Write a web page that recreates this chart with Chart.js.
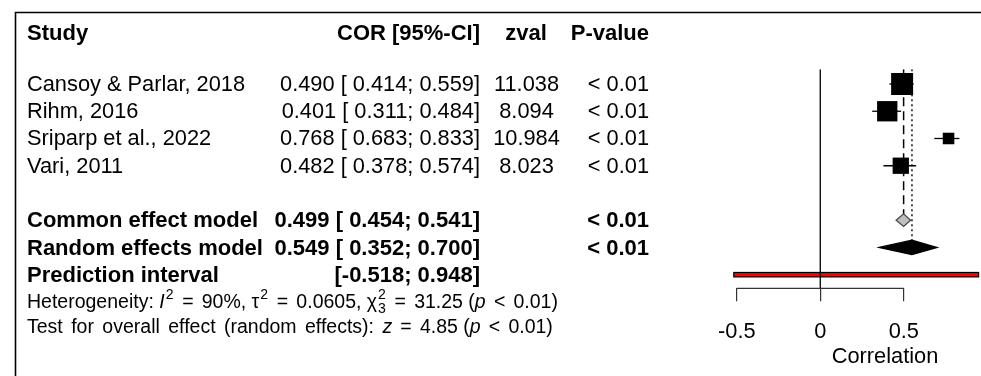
<!DOCTYPE html>
<html>
<head>
<meta charset="utf-8">
<script src="https://cdn.jsdelivr.net/npm/chart.js@4.4.0/dist/chart.umd.min.js"></script>
<style>
  html, body { margin: 0; padding: 0; background: #fff; }
  canvas { display: block; }
</style>
</head>
<body>
<canvas id="forest" width="981" height="376"></canvas>
<script>
// study-level correlations with 95% CI
const studies = ["Cansoy & Parlar, 2018", "Rihm, 2016", "Sriparp et al., 2022", "Vari, 2011"];
const cor = [0.490, 0.401, 0.768, 0.482];
const ciLower = [0.414, 0.311, 0.683, 0.378];
const ciUpper = [0.559, 0.484, 0.833, 0.574];
const zval = [11.038, 8.094, 10.984, 8.023];
const pval = ["< 0.01", "< 0.01", "< 0.01", "< 0.01"];
const weights = [37.3, 31.9, 10.3, 20.5]; // common-effect weights (%), sets square size

// pooled estimates
const summaryLabels = ["Common effect model", "Random effects model"];
const summaryEst = [0.499, 0.549];
const summaryLower = [0.454, 0.352];
const summaryUpper = [0.541, 0.700];
const summaryP = ["< 0.01", "< 0.01"];
const predInterval = [-0.518, 0.948];

// heterogeneity / overall test
const hetI2 = 90, hetTau2 = 0.0605, hetQ = 31.25, hetDf = 3, overallZ = 4.85;

const xTicks = [-0.5, 0, 0.5];

// row positions (y axis runs top to bottom)
const studyRows = [1, 2, 3, 4];
const summaryRows = [6, 7];
const predRow = 8;
const headerRow = -0.87, hetRow = 9, testRow = 9.9;

const FONT = '"Liberation Sans", Arial, sans-serif';
const MAIN = 21.8, BOLD = 22, SMALL = 19.5;
const f3 = v => v.toFixed(3);
const ciText = (lo, hi) => `[${lo < 0 ? '' : ' '}${f3(lo)}; ${f3(hi)}]`;

const datasets = [];

// squares
datasets.push({
  type: 'scatter',
  data: cor.map((v, i) => ({ x: v, y: studyRows[i] })),
  pointStyle: 'rect',
  pointRadius: ctx => 3.6 * Math.sqrt(weights[ctx.dataIndex]) / Math.SQRT2,
  backgroundColor: '#000',
  borderColor: '#000',
  borderWidth: 0,
  order: 0,
  clip: false
});

// confidence interval whiskers
studies.forEach((s, i) => {
  datasets.push({
    type: 'line',
    data: [{ x: ciLower[i], y: studyRows[i] }, { x: ciUpper[i], y: studyRows[i] }],
    borderColor: '#000',
    borderWidth: 1.3,
    pointRadius: 0,
    order: 1,
    clip: false
  });
});

// reference lines: no effect, common effect (dashed), random effects (dotted)
const yTop = 0.46, yBottom = 8.5;
datasets.push({
  type: 'line',
  data: [{ x: 0, y: yTop }, { x: 0, y: yBottom }],
  borderColor: '#111', borderWidth: 1.4, pointRadius: 0, order: 2
});
datasets.push({
  type: 'line',
  data: [{ x: summaryEst[0], y: yTop }, { x: summaryEst[0], y: summaryRows[0] - 0.22 }],
  borderColor: '#000', borderWidth: 1.5, borderDash: [9, 5], pointRadius: 0, order: 2
});
datasets.push({
  type: 'line',
  data: [{ x: summaryEst[1], y: yTop }, { x: summaryEst[1], y: summaryRows[1] - 0.24 }],
  borderColor: '#000', borderWidth: 1.4, borderDash: [2, 3], pointRadius: 0, order: 2
});

const forestPlugin = {
  id: 'forest',
  beforeDatasetsDraw(chart) {
    const { ctx, scales: { x, y } } = chart;
    const py = y.getPixelForValue(predRow);
    const x0 = x.getPixelForValue(predInterval[0]);
    const x1 = x.getPixelForValue(predInterval[1]);
    ctx.save();
    ctx.fillStyle = '#ff0000';
    ctx.strokeStyle = '#000';
    ctx.lineWidth = 1.2;
    ctx.fillRect(x0, py - 2.2, x1 - x0, 4.4);
    ctx.strokeRect(x0, py - 2.2, x1 - x0, 4.4);
    ctx.restore();
  },
  afterDatasetsDraw(chart) {
    const { ctx, scales: { x, y } } = chart;
    const fills = ['#bebebe', '#000'];
    const half = [6.3, 7.2];
    ctx.save();
    summaryEst.forEach((est, i) => {
      const yc = y.getPixelForValue(summaryRows[i]);
      ctx.beginPath();
      ctx.moveTo(x.getPixelForValue(summaryLower[i]), yc);
      ctx.lineTo(x.getPixelForValue(est), yc - half[i]);
      ctx.lineTo(x.getPixelForValue(summaryUpper[i]), yc);
      ctx.lineTo(x.getPixelForValue(est), yc + half[i]);
      ctx.closePath();
      ctx.fillStyle = fills[i];
      ctx.fill();
      ctx.strokeStyle = i === 0 ? '#444' : '#000';
      ctx.lineWidth = 1.2;
      ctx.stroke();
    });
    // axis line between outer ticks
    const ab = chart.chartArea.bottom;
    ctx.beginPath();
    ctx.moveTo(x.getPixelForValue(xTicks[0]), ab);
    ctx.lineTo(x.getPixelForValue(xTicks[xTicks.length - 1]), ab);
    ctx.strokeStyle = '#333';
    ctx.lineWidth = 1.2;
    ctx.stroke();
    ctx.restore();
  },
  afterDraw(chart) {
    const { ctx, scales: { y } } = chart;
    const row = r => y.getPixelForValue(r) + 1;
    ctx.save();
    ctx.fillStyle = '#000';
    ctx.textBaseline = 'middle';

    // frame
    ctx.beginPath();
    ctx.moveTo(15.5, 376);
    ctx.lineTo(15.5, 12.5);
    ctx.lineTo(981, 12.5);
    ctx.strokeStyle = '#000';
    ctx.lineWidth = 1.6;
    ctx.stroke();

    const text = (t, px, py, align, bold) => {
      ctx.font = bold ? `bold ${BOLD}px ${FONT}` : `${MAIN}px ${FONT}`;
      ctx.textAlign = align;
      ctx.fillText(t, px, py);
    };

    // header
    const hy = row(headerRow);
    text('Study', 27, hy, 'left', true);
    text('COR [95%-CI]', 480, hy, 'right', true);
    text('zval', 526, hy, 'center', true);
    text('P-value', 649, hy, 'right', true);

    // studies
    studies.forEach((s, i) => {
      const ry = row(studyRows[i]);
      text(s, 27, ry, 'left');
      text(`${f3(cor[i])} ${ciText(ciLower[i], ciUpper[i])}`, 480, ry, 'right');
      text(f3(zval[i]), 526.5, ry, 'center');
      text(pval[i], 649, ry, 'right');
    });

    // pooled rows
    summaryLabels.forEach((s, i) => {
      const ry = row(summaryRows[i]);
      text(s, 27, ry, 'left', true);
      text(`${f3(summaryEst[i])} ${ciText(summaryLower[i], summaryUpper[i])}`, 480, ry, 'right', true);
      text(summaryP[i], 649, ry, 'right', true);
    });
    text('Prediction interval', 27, row(predRow), 'left', true);
    text(ciText(predInterval[0], predInterval[1]), 480, row(predRow), 'right', true);

    // heterogeneity statistics: italic symbols, stacked super/subscripts,
    // relations set with wide gaps like plotmath
    const runs = (parts, px, py) => {
      ctx.textAlign = 'left';
      for (const p of parts) {
        ctx.wordSpacing = `${p.ws || 0}px`;
        if (p.sup || p.sub) {
          ctx.font = `${SMALL * 0.72}px ${FONT}`;
          let w = 0;
          if (p.sup) { ctx.fillText(p.sup, px + 1, py - SMALL * 0.42); w = Math.max(w, ctx.measureText(p.sup).width); }
          if (p.sub) { ctx.fillText(p.sub, px + 1, py + SMALL * 0.3); w = Math.max(w, ctx.measureText(p.sub).width); }
          px += w + 1.5;
        } else if (p.op) {
          ctx.font = `${SMALL}px ${FONT}`;
          px += SMALL * 0.42;
          ctx.fillText(p.op, px, py);
          px += ctx.measureText(p.op).width + SMALL * 0.42;
        } else {
          ctx.font = `${p.it ? 'italic ' : ''}${SMALL}px ${FONT}`;
          ctx.fillText(p.t, px, py);
          px += ctx.measureText(p.t).width;
        }
      }
      ctx.wordSpacing = '0px';
    };
    runs([
      { t: 'Heterogeneity: ' }, { t: 'I', it: true }, { sup: '2' }, { op: '=' }, { t: `${hetI2}%, ` },
      { t: 'τ' }, { sup: '2' }, { op: '=' }, { t: `${hetTau2}, ` },
      { t: 'χ' }, { sup: '2', sub: String(hetDf) }, { op: '=' }, { t: `${hetQ.toFixed(2)} (` },
      { t: 'p', it: true }, { op: '<' }, { t: '0.01)' }
    ], 27, row(hetRow));
    runs([
      { t: 'Test for overall effect (random effects): ', ws: 3 }, { t: 'z', it: true },
      { op: '=' }, { t: `${overallZ.toFixed(2)} (` }, { t: 'p', it: true }, { op: '<' }, { t: '0.01)' }
    ], 27, row(testRow));

    // x axis title
    ctx.font = `${MAIN}px ${FONT}`;
    ctx.textAlign = 'center';
    ctx.fillText('Correlation', 885, 357);
    ctx.restore();
  }
};

new Chart(document.getElementById('forest'), {
  type: 'scatter',
  data: { datasets },
  options: {
    responsive: false,
    animation: false,
    events: [],
    layout: { autoPadding: false, padding: { left: 720.1, right: 0.4, top: 69.3, bottom: 0 } },
    plugins: { legend: { display: false }, tooltip: { enabled: false } },
    scales: {
      x: {
        type: 'linear',
        min: -0.6,
        max: 0.96,
        afterBuildTicks: s => { s.ticks = xTicks.map(v => ({ value: v })); },
        afterFit: s => { s.height = 376 - 288.3; s.paddingLeft = 0; s.paddingRight = 0; },
        border: { display: false },
        grid: { drawOnChartArea: false, drawTicks: true, tickLength: 13, color: '#333', lineWidth: 1.2 },
        ticks: {
          color: '#000',
          font: { family: FONT, size: MAIN },
          padding: 18,
          maxRotation: 0,
          autoSkip: false,
          callback: v => String(v)
        }
      },
      y: { type: 'linear', reverse: true, min: yTop, max: yBottom, display: false }
    }
  },
  plugins: [forestPlugin]
});
</script>
</body>
</html>
